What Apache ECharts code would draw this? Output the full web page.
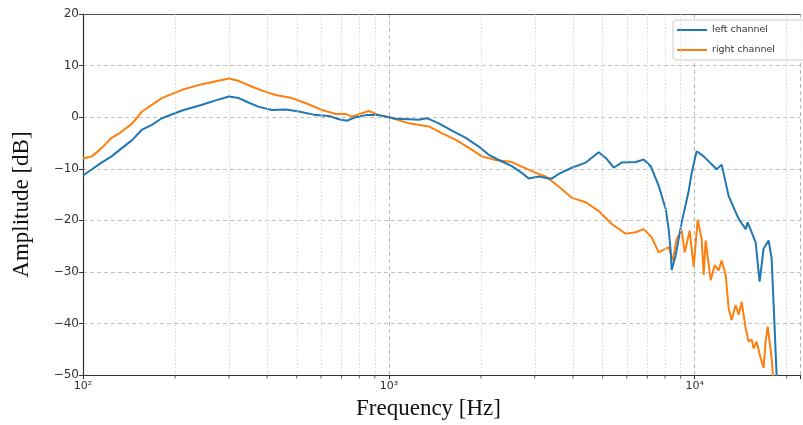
<!DOCTYPE html>
<html>
<head>
<meta charset="utf-8">
<script src="https://cdn.jsdelivr.net/npm/echarts@6/dist/echarts.min.js"></script>
<style>html,body{margin:0;padding:0;background:#fff;}#c{width:803px;height:425px;}</style>
</head>
<body>
<div id="c"></div>
<script>
const leftFreq = [100,107,115,124,134,145,156,168,181,211,245,270,300,323,349,376,415,461,508,577,637,687,729,780,841,927,1000,1054,1163,1253,1331,1457,1607,1785,1968,2122,2288,2523,2721,2868,3093,3334,3409,3594,3963,4404,4858,5121,5436,5773,6417,6813,7182,7627,8039,8223,8348,8411,8667,9068,9559,9777,10150,10700,11802,12253,12917,13925,14678,14900,15822,16305,16800,17450,17850,18260,18530,18700];
const leftDb = [-11.3,-10.1,-8.8,-7.6,-6.0,-4.4,-2.4,-1.5,-0.2,1.3,2.4,3.2,4.0,3.7,2.8,2.0,1.4,1.5,1.1,0.4,0.25,-0.4,-0.7,0.0,0.4,0.4,0.0,-0.3,-0.4,-0.5,-0.2,-1.2,-2.6,-4.0,-5.7,-7.3,-8.3,-9.5,-10.8,-11.9,-11.5,-11.9,-11.9,-11.0,-9.8,-8.8,-6.8,-7.9,-9.8,-8.8,-8.7,-8.2,-9.5,-13.3,-17.8,-21.7,-26.0,-29.6,-26.8,-20.4,-14.3,-10.8,-6.6,-7.6,-10.1,-9.2,-15.3,-19.7,-21.7,-20.4,-24.2,-31.9,-25.5,-23.9,-27.4,-40.9,-50.0,-56.0];

const rightFreq = [100,107,115,124,131,145,156,181,211,245,300,324,357,396,427,482,536,604,671,724,757,860,927,1000,1054,1163,1351,1490,1656,1867,2014,2237,2523,2721,3023,3260,3515,3788,3963,4404,4858,5355,5950,6417,6813,7236,7627,8100,8223,8474,8732,9068,9275,9631,9925,10228,10541,10700,10862,11280,11626,11980,12253,12628,12917,13211,13615,13925,14242,14678,15013,15356,15587,15942,16429,16800,17060,17320,17580,17850,18120];
const rightDb = [-8.0,-7.6,-6.0,-4.0,-3.2,-1.2,1.1,3.7,5.3,6.4,7.5,7.0,5.9,4.9,4.3,3.7,2.7,1.4,0.6,0.6,0.1,1.2,0.4,0.0,-0.4,-1.2,-1.8,-3.1,-4.4,-6.3,-7.6,-8.3,-8.7,-9.6,-10.8,-11.5,-13.0,-14.6,-15.6,-16.5,-18.2,-20.7,-22.6,-22.3,-21.7,-23.3,-26.2,-25.4,-25.2,-27.8,-23.6,-22.0,-26.2,-22.0,-29.0,-19.9,-23.6,-30.6,-23.9,-31.6,-28.7,-29.7,-27.8,-30.6,-37.1,-39.3,-36.4,-38.3,-35.8,-40.9,-43.5,-43.1,-44.8,-43.5,-46.7,-48.6,-43.5,-40.6,-43.5,-46.7,-52.0];

const seriesNames = ['left channel', 'right channel'];
const xMin = 100, xMax = 22100;
const yMin = -50, yMax = 20;

const minorVals = [];
for (let n = 2; n <= 4; n++) {
  for (let k = 2; k <= 9; k++) {
    const v = k * Math.pow(10, n);
    if (v < xMax) minorVals.push(v);
  }
}
const sup = {2: '\u00b2', 3: '\u00b3', 4: '\u2074'};
const zip = (a, b) => a.map((v, i) => [v, b[i]]);

const chart = echarts.init(document.getElementById('c'), null, {renderer: 'canvas'});
chart.setOption({
  animation: false,
  backgroundColor: '#fff',
  grid: {left: 83, top: 14, right: 0, bottom: 47, show: false},
  legend: {
    orient: 'vertical', left: 673, top: 20,
    data: seriesNames, icon: 'rect', itemWidth: 30, itemHeight: 2, itemGap: 10,
    padding: [5, 40, 5, 4],
    borderColor: '#cccccc', borderWidth: 1, borderRadius: 3,
    backgroundColor: 'rgba(255,255,255,0.85)',
    textStyle: {fontFamily: 'DejaVu Sans', fontSize: 9.5, color: '#333'}
  },
  xAxis: [{
    type: 'log', logBase: 10, min: xMin, max: xMax, position: 'bottom',
    name: 'Frequency [Hz]', nameLocation: 'middle', nameGap: 16,
    nameTextStyle: {fontFamily: 'Liberation Serif', fontSize: 23, color: '#111', padding: [0, 26, 0, 0], verticalAlign: 'top'},
    axisLine: {show: true, onZero: false, lineStyle: {color: '#333', width: 1.2}},
    axisTick: {show: true, length: 4, lineStyle: {color: '#333'}},
    axisLabel: {
      margin: 6, fontFamily: 'DejaVu Sans', fontSize: 11, color: '#333',
      formatter: v => { const e = Math.round(Math.log10(v)); return Math.abs(Math.log10(v) - e) < 1e-6 ? '10' + (sup[e] || '') : ''; }
    },
    splitLine: {show: true, lineStyle: {color: '#b8b8b8', type: [4, 3], width: 1}}
  }, {
    type: 'log', logBase: 10, min: xMin, max: xMax, position: 'top',
    axisLine: {show: true, onZero: false, lineStyle: {color: '#555', width: 1.2}},
    axisTick: {show: false}, axisLabel: {show: false}, splitLine: {show: false}
  }],
  yAxis: {
    type: 'value', min: yMin, max: yMax, interval: 10,
    name: 'Amplitude [dB]', nameLocation: 'middle', nameGap: 50,
    nameTextStyle: {fontFamily: 'Liberation Serif', fontSize: 23, color: '#111', padding: [0, 20, 0, 0]},
    axisLine: {show: true, onZero: false, lineStyle: {color: '#333', width: 1.2}},
    axisTick: {show: true, length: 4, lineStyle: {color: '#333'}},
    axisLabel: {
      margin: 4, fontFamily: 'DejaVu Sans', fontSize: 12, color: '#333',
      formatter: v => (v < 0 ? '\u2212' + Math.abs(v) : String(v))
    },
    splitLine: {show: true, lineStyle: {color: '#c4c4c4', type: [4, 3], width: 1}}
  },
  series: [
    {
      name: 'minor', type: 'line', data: [], silent: true,
      markLine: {
        silent: true, symbol: 'none', label: {show: false},
        lineStyle: {color: '#d6d6d6', type: [1.5, 2], width: 1},
        data: minorVals.map(v => ({xAxis: v}))
      }
    },
    {
      name: 'minorTicks', type: 'scatter', silent: true, clip: false,
      symbol: 'rect', symbolSize: [1, 3], symbolOffset: [0, 2],
      itemStyle: {color: '#333'},
      data: minorVals.map(v => [v, yMin])
    },
    {
      name: seriesNames[0], type: 'line', data: zip(leftFreq, leftDb),
      showSymbol: false, smooth: false, clip: true,
      lineStyle: {color: '#1f77b4', width: 2}, itemStyle: {color: '#1f77b4'}, z: 3
    },
    {
      name: seriesNames[1], type: 'line', data: zip(rightFreq, rightDb),
      showSymbol: false, smooth: false, clip: true,
      lineStyle: {color: '#ff7f0e', width: 2}, itemStyle: {color: '#ff7f0e'}, z: 2
    }
  ]
});
</script>
</body>
</html>
